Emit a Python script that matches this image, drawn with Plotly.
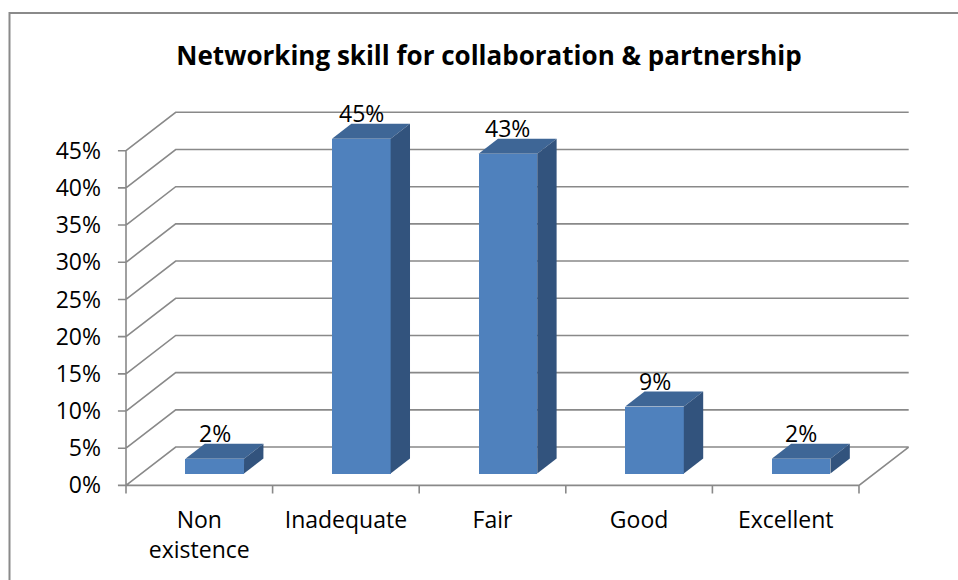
import plotly.graph_objects as go

# Survey ratings for networking skill
categories = ["Non<br>existence", "Inadequate", "Fair", "Good", "Excellent"]
values = [2, 45, 43, 9, 2]
y_ticks = [0, 5, 10, 15, 20, 25, 30, 35, 40, 45]
y_tick_labels = [f"{t}%" for t in y_ticks]

# Figure geometry (pixels)
W, H = 958, 580
ML, MR, MT, MB = 108, 40, 106, 84
PW, PH = W - ML - MR, H - MT - MB

# 3D box projection (data units)
DX = 0.339          # depth shift along the category axis
DY = 5.16           # depth shift along the value axis
F0, F1 = 0.31, 0.70 # front / back depth of each column
BAR_W = 0.40
TICK_X = 0.055      # y tick length in category units
TICK_Y = 1.08       # x tick length in percent units

n = len(categories)
x_lo, x_hi = -0.6228, 4.9025
y_lo, y_hi = -1.425, 51.008

GRID = "#898989"
FRONT = "#4F81BD"
TOP = "#3E6696"
SIDE = "#32537D"
FONT = "Open Sans"

idx = list(range(n))
base = F0 * DY
ox = F0 * DX
d = F1 - F0

fig = go.Figure()

# Front faces of the columns
fig.add_trace(go.Bar(
    x=idx, y=values, base=base, width=BAR_W, offset=ox - BAR_W / 2,
    marker=dict(color=FRONT, line=dict(width=0)), hoverinfo="skip",
))

# Top and side faces of the columns
for i, v in enumerate(values):
    xl = i + ox - BAR_W / 2
    xr = i + ox + BAR_W / 2
    yt = base + v
    fig.add_trace(go.Scatter(
        x=[xl, xr, xr + d * DX, xl + d * DX, xl],
        y=[yt, yt, yt + d * DY, yt + d * DY, yt],
        mode="lines", fill="toself", fillcolor=TOP,
        line=dict(width=0, color=TOP), hoverinfo="skip",
    ))
    fig.add_trace(go.Scatter(
        x=[xr, xr + d * DX, xr + d * DX, xr, xr],
        y=[base, base + d * DY, yt + d * DY, yt, base],
        mode="lines", fill="toself", fillcolor=SIDE,
        line=dict(width=0, color=SIDE), hoverinfo="skip",
    ))

# Walls, floor, axis lines and tick marks
left, right = -0.5, n - 0.5
p = []
for t in y_ticks:
    p.append(f"M{left},{t} L{left + DX},{t + DY} L{right + DX},{t + DY}")
    p.append(f"M{left - TICK_X},{t} L{left},{t}")
p.append(f"M{left},0 L{right},0 L{right + DX},{DY}")
p.append(f"M{left},0 L{left},{y_ticks[-1]}")
for k in range(n + 1):
    b = left + k
    p.append(f"M{b},0 L{b},{-TICK_Y}")

fig.add_shape(type="path", path=" ".join(p), xref="x", yref="y",
              line=dict(color=GRID, width=1.6), layer="below")

# Data labels
for i, v in enumerate(values):
    fig.add_annotation(x=i + ox, y=base + v, text=f"{v}%", showarrow=False,
                       yshift=26, font=dict(family=FONT, size=23, color="#000"))

# Chart border
fig.add_shape(type="rect", xref="paper", yref="paper",
              x0=(9.5 - ML) / PW, x1=(W + 5 - ML) / PW,
              y0=(H - MB - (H + 5)) / PH, y1=(H - MB - 13) / PH,
              line=dict(color="#8a8a8a", width=2), layer="below")

fig.update_layout(
    width=W, height=H,
    margin=dict(l=ML, r=MR, t=MT, b=MB),
    paper_bgcolor="white", plot_bgcolor="white",
    showlegend=False,
    title=dict(text="<b>Networking skill for collaboration & partnership</b>",
               x=489 / W, xref="container", xanchor="center",
               y=1 - 56 / H, yref="container", yanchor="middle",
               font=dict(family=FONT, size=26, color="#000")),
    xaxis=dict(range=[x_lo, x_hi], tickvals=idx, ticktext=categories,
               showgrid=False, zeroline=False, showline=False, ticks="",
               ticklabelstandoff=8,
               tickfont=dict(family=FONT, size=23, color="#000")),
    yaxis=dict(range=[y_lo, y_hi], tickvals=y_ticks, ticktext=y_tick_labels,
               showgrid=False, zeroline=False, showline=False, ticks="",
               ticklabelstandoff=6,
               tickfont=dict(family=FONT, size=23, color="#000")),
    bargap=0,
)

fig.write_html("out.html")
